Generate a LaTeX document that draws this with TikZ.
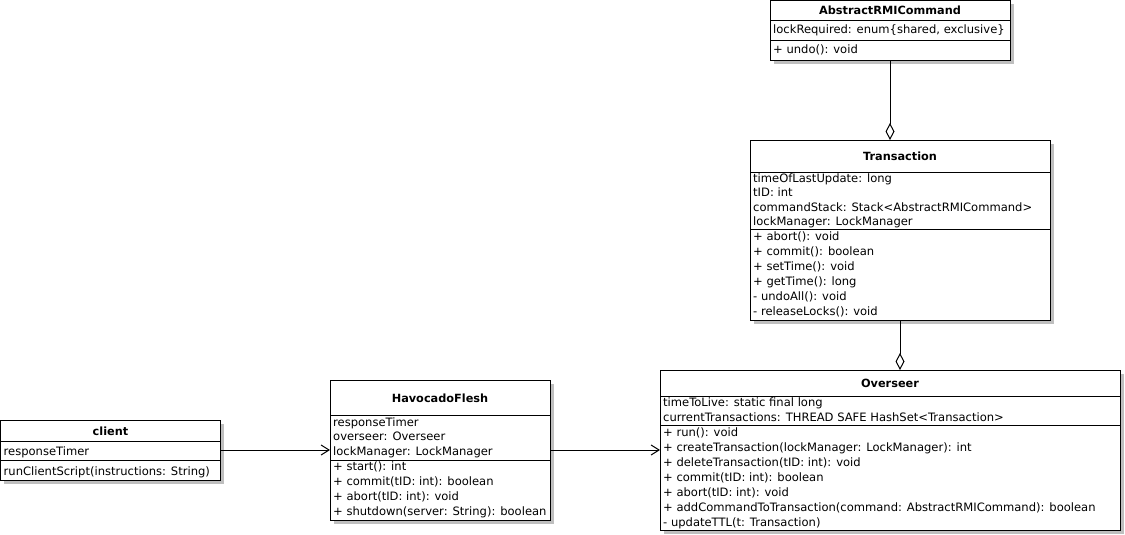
\documentclass[tikz,border=0pt]{standalone}
\usepackage{fontspec}
\setmainfont{DejaVu Sans}
\usetikzlibrary{arrows.meta,shadows}
\begin{document}
\begin{tikzpicture}[x=1pt,y=-1pt,
  cls/.style={draw=black, line width=1pt, fill=white, inner sep=0pt, outer sep=0pt,
    drop shadow={shadow xshift=3.5pt, shadow yshift=-3.5pt, fill=black!25, opacity=1}},
  title/.style={anchor=base, inner sep=0pt, font=\fontsize{11.3}{13}\selectfont\bfseries},
  txt/.style={anchor=base west, inner sep=0pt, font=\fontsize{11.55}{13}\selectfont},
  sep/.style={line width=1pt},
  assoc/.style={line width=1pt, -{Straight Barb[length=8pt,width=10pt,line width=1pt]}},
  aggr/.style={line width=1pt, -{Diamond[open,length=17pt,width=9pt,line width=1pt,fill=white]}}
]
\useasboundingbox (0,0) rectangle (1125,535);

% ---- class boxes ----
\node[cls, minimum width=240pt, minimum height=60pt]  (arc)    at (890,30.5)  {};
\node[cls, minimum width=300pt, minimum height=180pt] (trans)  at (900,230)   {};
\node[cls, minimum width=460pt, minimum height=160pt] (over)   at (890,450)   {};
\node[cls, minimum width=220pt, minimum height=140pt] (hf)     at (440,450)   {};
\node[cls, minimum width=220pt, minimum height=60pt]  (client) at (110.5,450) {};

% ---- compartment dividers ----
\draw[sep] (arc.west |- 0,20.5) -- (arc.east |- 0,20.5);
\draw[sep] (arc.west |- 0,41) -- (arc.east |- 0,41);
\draw[sep] (trans.west |- 0,172.5) -- (trans.east |- 0,172.5);
\draw[sep] (trans.west |- 0,229) -- (trans.east |- 0,229);
\draw[sep] (over.west |- 0,396) -- (over.east |- 0,396);
\draw[sep] (over.west |- 0,425) -- (over.east |- 0,425);
\draw[sep] (hf.west |- 0,415.5) -- (hf.east |- 0,415.5);
\draw[sep] (hf.west |- 0,460) -- (hf.east |- 0,460);
\draw[sep] (client.west |- 0,441) -- (client.east |- 0,441);
\draw[sep] (client.west |- 0,460.5) -- (client.east |- 0,460.5);

% ---- class names ----
\node[title] (arc-t)    at (890,15)    {AbstractRMICommand};
\node[title] (trans-t)  at (900,160)   {Transaction};
\node[title] (over-t)   at (890,387)   {Overseer};
\node[title] (hf-t)     at (440,402.5) {HavocadoFlesh};
\node[title] (client-t) at (110.5,435) {client};

% ---- AbstractRMICommand ----
\node[txt] (arc-a1) at (773,34) {lockRequired: enum\{shared, exclusive\}};
\node[txt] (arc-m1) at (773,54) {+ undo(): void};

% ---- Transaction ----
\foreach \t [count=\i] in {{timeOfLastUpdate: long},{tID: int},
    {commandStack: Stack<AbstractRMICommand>},{lockManager: LockManager}}
  \node[txt] (trans-a\i) at (753,182+14.5*\i-14.5) {\t};
\foreach \t [count=\i] in {{+ abort(): void},{+ commit(): boolean},{+ setTime(): void},
    {+ getTime(): long},{- undoAll(): void},{- releaseLocks(): void}}
  \node[txt] (trans-m\i) at (753,240+15*\i-15) {\t};

% ---- Overseer ----
\foreach \t [count=\i] in {{timeToLive: static final long},
    {currentTransactions: THREAD SAFE HashSet<Transaction>}}
  \node[txt] (over-a\i) at (663,406.5+14.5*\i-14.5) {\t};
\foreach \t [count=\i] in {{+ run(): void},
    {+ createTransaction(lockManager: LockManager): int},
    {+ deleteTransaction(tID: int): void},{+ commit(tID: int): boolean},
    {+ abort(tID: int): void},
    {+ addCommandToTransaction(command: AbstractRMICommand): boolean},
    {- updateTTL(t: Transaction)}}
  \node[txt] (over-m\i) at (663,436.5+15*\i-15) {\t};

% ---- HavocadoFlesh ----
\foreach \t [count=\i] in {{responseTimer},{overseer: Overseer},{lockManager: LockManager}}
  \node[txt] (hf-a\i) at (333,426+14.5*\i-14.5) {\t};
\foreach \t [count=\i] in {{+ start(): int},{+ commit(tID: int): boolean},
    {+ abort(tID: int): void},{+ shutdown(server: String): boolean}}
  \node[txt] (hf-m\i) at (333,470+15*\i-15) {\t};

% ---- client ----
\node[txt] (client-a1) at (3.5,455) {responseTimer};
\node[txt] (client-m1) at (3.5,475) {runClientScript(instructions: String)};

% ---- relations ----
\draw[assoc] (client.east) -- (hf.west);
\draw[assoc] (hf.east) -- (over.west);
\draw[aggr] (arc.south) -- (arc.south |- trans.north);
\draw[aggr] (trans.south) -- (trans.south |- over.north);
\end{tikzpicture}
\end{document}
